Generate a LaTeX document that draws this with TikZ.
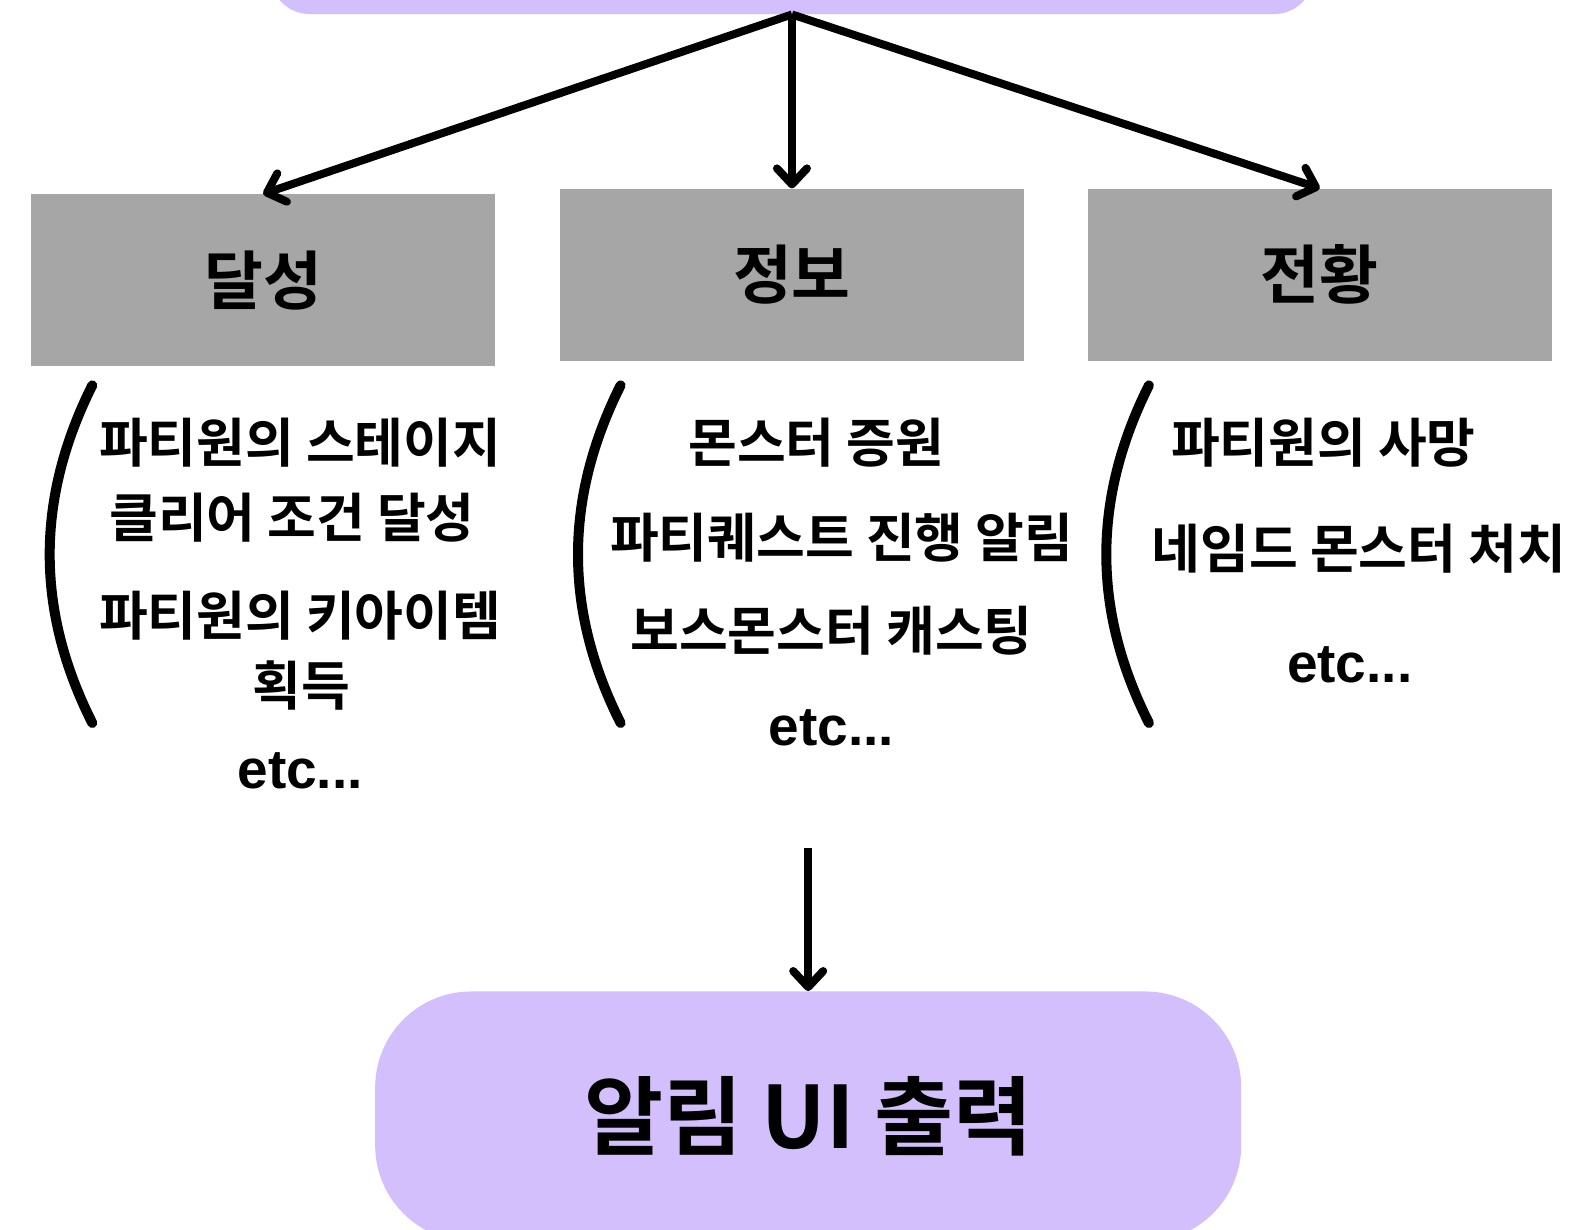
\documentclass[tikz,border=0pt]{standalone}
\usepackage{fontspec}
\setmainfont{Liberation Sans}
\newfontfamily\krfont{Noto Sans CJK KR}[BoldFont={Noto Sans CJK KR Bold}]
\usetikzlibrary{arrows.meta}
\definecolor{lilac}{HTML}{D3BFFB}
\definecolor{boxgray}{HTML}{A6A6A6}

\begin{document}
\begin{tikzpicture}[
  x=0.507pt, y=-0.507pt,
  stage/.style = {fill=lilac, inner sep=0pt, align=center},
  category/.style = {fill=boxgray, minimum width=232pt, minimum height=86pt, inner sep=0pt,
    font=\krfont\bfseries\fontsize{32pt}{38pt}\selectfont},
  item/.style = {inner sep=0pt, font=\krfont\bfseries\fontsize{26.5pt}{31pt}\selectfont},
  etc/.style = {inner sep=0pt, font=\bfseries\fontsize{27.5pt}{32pt}\selectfont},
  arrow/.style = {line width=4pt, -{Straight Barb[length=8pt,width=15pt,round]}},
  paren/.style = {line width=5pt, line cap=round}
]
\useasboundingbox (0,0) rectangle (1568,1212);
\clip (0,0) rectangle (1568,1212);

%--------------------------------------------------
% Stages (rounded boxes)
%--------------------------------------------------
\node[stage, rounded corners=20pt, minimum width=522pt, minimum height=81pt] (event) at (781,-66) {};
\node[stage, rounded corners=48pt, minimum width=433pt, minimum height=125pt,
  font=\krfont\bfseries\fontsize{43pt}{50pt}\selectfont] (notify_ui) at (797,1101) {알림 UI 출력};

%--------------------------------------------------
% Categories (gray blocks)
%--------------------------------------------------
\node[category] (achieve) at (259.5,276.5) {달성};
\node[category] (inform) at (781,271) {정보};
\node[category] (transit) at (1301.5,271) {전황};

%--------------------------------------------------
% Examples under each category
%--------------------------------------------------
\node[item] (achieve_a) at (296,437) {파티원의 스테이지};
\node[item] (achieve_b) at (288,510) {클리어 조건 달성};
\node[item] (achieve_c) at (296,607) {파티원의 키아이템};
\node[item] (achieve_d) at (297,676) {획득};
\node[etc] (achieve_etc) at (296,760) {etc...};

\node[item] (inform_a) at (805,437) {몬스터 증원};
\node[item] (inform_b) at (830,530) {파티퀘스트 진행 알림};
\node[item] (inform_c) at (820,622) {보스몬스터 캐스팅};
\node[etc] (inform_etc) at (820,718) {etc...};

\node[item] (transit_a) at (1305,437) {파티원의 사망};
\node[item] (transit_b) at (1340,541) {네임드 몬스터 처치};
\node[etc] (transit_etc) at (1331,656) {etc...};

% brackets in front of each list
\foreach \dx in {0,521,1042}
  \draw[paren] (91+\dx,380) .. controls (35+\dx,492) and (35+\dx,602) .. (91+\dx,713);

%--------------------------------------------------
% Connections
%--------------------------------------------------
\draw[arrow] (event.south) -- (achieve.north);
\draw[arrow] (event.south) -- (inform.north);
\draw[arrow] (event.south) -- (transit.north);

\coordinate (flow_start) at (797,836);
\draw[arrow] (flow_start) -- (notify_ui.north);

\end{tikzpicture}
\end{document}
